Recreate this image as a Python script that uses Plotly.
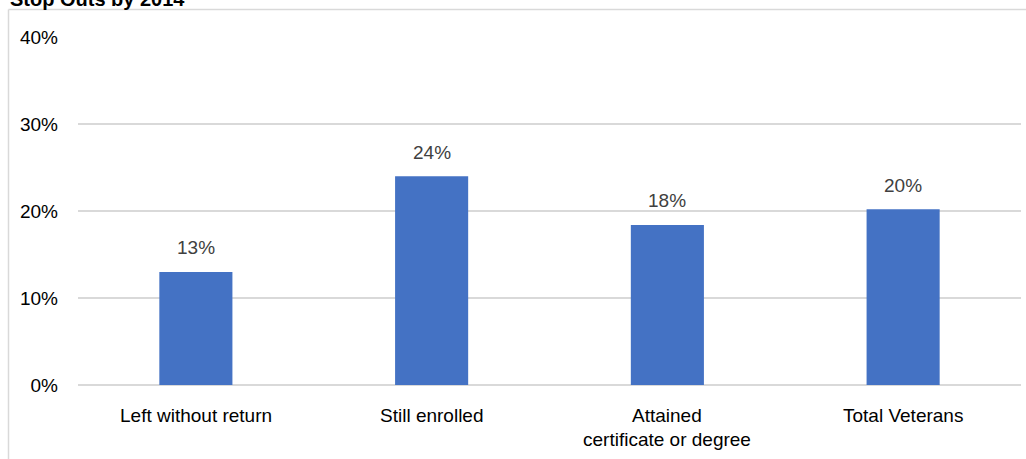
import plotly.graph_objects as go

title_text = "Stop Outs by 2014"
categories = ["Left without return", "Still enrolled", "Attained\ncertificate or degree", "Total Veterans"]
values = [0.130, 0.240, 0.184, 0.202]
y_ticks = [0.0, 0.1, 0.2, 0.3, 0.4]

W, H = 1026, 459
ML, MR, MT, MB = 78, 5, 37, 74
pw, ph = W - ML - MR, H - MT - MB

FONT = "Liberation Sans"
bar_color = "#4472C4"
grid_color = "#d9d9d9"

x_idx = list(range(len(categories)))

fig = go.Figure()
fig.add_trace(go.Bar(
    x=x_idx, y=values, width=0.31,
    marker=dict(color=bar_color, line=dict(width=0)),
    hoverinfo="skip",
))

annotations = []
# data labels
for i, v in zip(x_idx, values):
    annotations.append(dict(
        x=i, y=v, xref="x", yref="y", text=f"{v:.0%}", showarrow=False,
        yshift=24, yanchor="middle",
        font=dict(family=FONT, size=19, color="#404040"),
    ))
# category labels (multi-line with wider spacing)
for i, c in zip(x_idx, categories):
    for k, line in enumerate(c.split("\n")):
        annotations.append(dict(
            x=i, y=0, xref="x", yref="paper", text=line, showarrow=False,
            yshift=-30 - 24 * k, yanchor="middle",
            font=dict(family=FONT, size=19, color="#000000"),
        ))
# title (partially cropped at top, as in the reference)
annotations.append(dict(
    x=(8 - ML) / pw, y=1 + (MT + 1) / ph, xref="paper", yref="paper",
    text=f"<b>{title_text}</b>", showarrow=False, xanchor="left", yanchor="middle",
    font=dict(family=FONT, size=20, color="#000000"),
))

# outer chart border (left and top edges visible)
bx = (8.5 - ML) / pw
by = 1 + (MT - 9.5) / ph
shapes = [
    dict(type="line", xref="paper", yref="paper", x0=bx, x1=bx, y0=-1, y1=by,
         line=dict(color=grid_color, width=1.5)),
    dict(type="line", xref="paper", yref="paper", x0=bx, x1=2, y0=by, y1=by,
         line=dict(color=grid_color, width=1.5)),
]

fig.update_layout(
    width=W, height=H,
    margin=dict(l=ML, r=MR, t=MT, b=MB, pad=0),
    paper_bgcolor="white", plot_bgcolor="white",
    showlegend=False,
    annotations=annotations,
    shapes=shapes,
    xaxis=dict(
        range=[-0.5, len(categories) - 0.5],
        showticklabels=False, showgrid=False, zeroline=False,
        showline=False, ticks="", fixedrange=True,
    ),
    yaxis=dict(
        range=[0, 0.40], tickvals=y_ticks, tickformat=".0%",
        showgrid=True, gridcolor=grid_color, gridwidth=1.5,
        zeroline=True, zerolinecolor=grid_color, zerolinewidth=1.5,
        showline=False, ticks="", ticklabelstandoff=19,
        tickfont=dict(family=FONT, size=19, color="#000000"),
        fixedrange=True,
    ),
)

fig.write_html("out.html", config={"displayModeBar": False})
